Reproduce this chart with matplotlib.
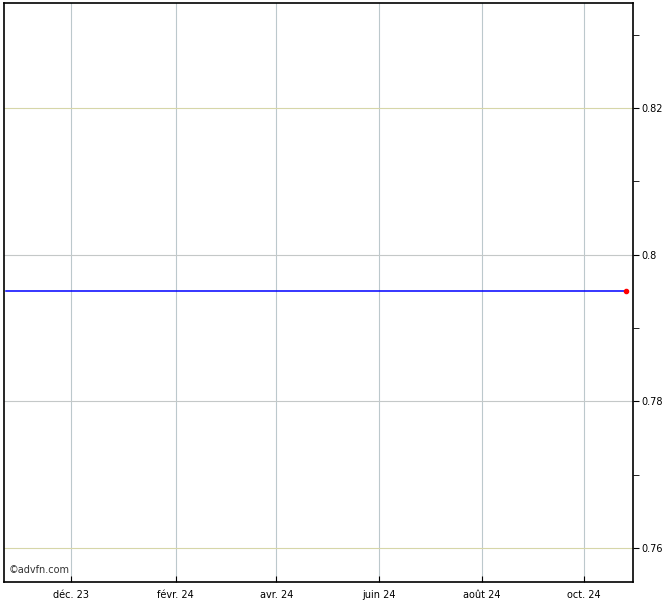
import matplotlib
matplotlib.use("Agg")
from matplotlib import pyplot as plt
from matplotlib.ticker import MultipleLocator
import datetime as dt

# price series (flat)
dates = [dt.date(2023, 10, 23), dt.date(2024, 1, 15), dt.date(2024, 4, 15),
         dt.date(2024, 7, 15), dt.date(2024, 10, 26)]
prices = [0.795, 0.795, 0.795, 0.795, 0.795]

xticks = [dt.date(2023, 12, 1), dt.date(2024, 2, 1), dt.date(2024, 4, 1),
          dt.date(2024, 6, 1), dt.date(2024, 8, 1), dt.date(2024, 10, 1)]
xlabels = ["déc. 23", "févr. 24", "avr. 24", "juin 24", "août 24", "oct. 24"]
yticks = [0.76, 0.78, 0.8, 0.82]
ylabels = ["0.76", "0.78", "0.8", "0.82"]

fig = plt.figure(figsize=(6.7, 6.0), dpi=100)
ax = fig.add_axes([4 / 670, 18 / 600, 629 / 670, 579 / 600])

ax.plot(dates, prices, color="#0000ff", lw=1.1, zorder=3)
ax.plot(dates[-1], prices[-1], "o", color="#ff0000", ms=3, zorder=4)

ax.set_xlim(dt.date(2023, 10, 22), dt.date(2024, 10, 30))
ax.set_ylim(0.75536, 0.8343)

ax.set_xticks(xticks)
ax.set_xticklabels(xlabels)
ax.set_yticks(yticks)
ax.set_yticklabels(ylabels)
ax.yaxis.set_minor_locator(MultipleLocator(0.01))
ax.yaxis.tick_right()

for xt in xticks:
    ax.axvline(xt, color="#bcc8cc", lw=0.8, zorder=1)
for yv in yticks:
    c = "#d6d6a8" if yv in (0.76, 0.82) else "#c4c8c8"
    ax.axhline(yv, color=c, lw=0.8, zorder=1)

ax.tick_params(axis="x", direction="in", length=4, labelsize=7, pad=6)
ax.tick_params(axis="y", which="both", direction="out", length=4, labelsize=7, pad=2)
for s in ax.spines.values():
    s.set_linewidth(1.2)

ax.text(0.008, 0.012, "©advfn.com", transform=ax.transAxes, fontsize=7,
        color="#333333", ha="left", va="bottom")

fig.savefig("out.png", dpi=100)
